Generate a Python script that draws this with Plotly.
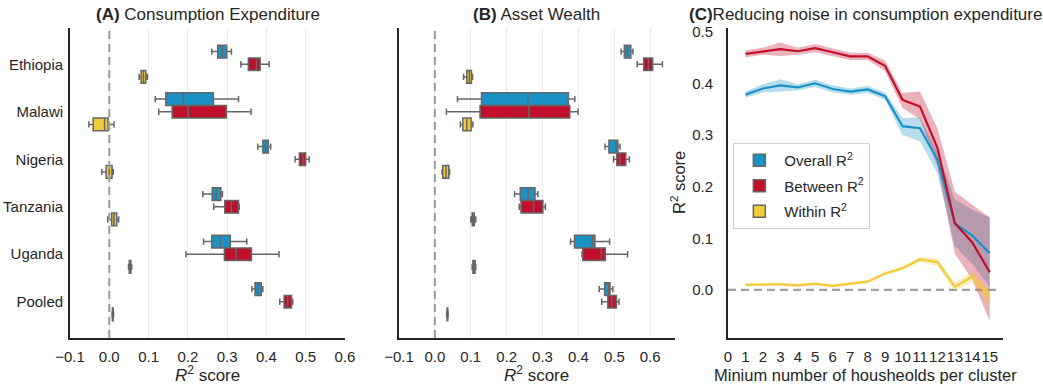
import plotly.graph_objects as go

countries = ["Ethiopia", "Malawi", "Nigeria", "Tanzania", "Uganda", "Pooled"]
series_names = ["Overall R<sup>2</sup>", "Between R<sup>2</sup>", "Within R<sup>2</sup>"]

# Panel A: Consumption expenditure (box stats per country)
cons_overall_lo = [0.261, 0.117, 0.378, 0.238, 0.240, 0.363]
cons_overall_q1 = [0.276, 0.144, 0.391, 0.262, 0.261, 0.371]
cons_overall_med = [0.288, 0.188, 0.398, 0.272, 0.283, 0.378]
cons_overall_q3 = [0.299, 0.265, 0.405, 0.284, 0.308, 0.387]
cons_overall_hi = [0.311, 0.329, 0.411, 0.288, 0.350, 0.391]

cons_between_lo = [0.335, 0.126, 0.473, 0.266, 0.195, 0.434]
cons_between_q1 = [0.354, 0.160, 0.484, 0.294, 0.293, 0.445]
cons_between_med = [0.375, 0.201, 0.493, 0.311, 0.323, 0.454]
cons_between_q3 = [0.384, 0.298, 0.500, 0.329, 0.362, 0.464]
cons_between_hi = [0.407, 0.361, 0.509, 0.331, 0.432, 0.467]

cons_within_lo = [0.076, -0.052, -0.019, -0.004, 0.049, 0.007]
cons_within_q1 = [0.081, -0.041, -0.008, 0.006, 0.051, 0.008]
cons_within_med = [0.087, -0.012, 0.000, 0.012, 0.053, 0.009]
cons_within_q3 = [0.093, -0.003, 0.007, 0.019, 0.055, 0.010]
cons_within_hi = [0.097, 0.012, 0.010, 0.024, 0.057, 0.011]

# Panel B: Asset wealth
asset_overall_lo = [0.519, 0.063, 0.474, 0.222, 0.378, 0.458]
asset_overall_q1 = [0.528, 0.130, 0.485, 0.238, 0.389, 0.473]
asset_overall_med = [0.536, 0.259, 0.505, 0.260, 0.439, 0.484]
asset_overall_q3 = [0.546, 0.372, 0.510, 0.279, 0.446, 0.488]
asset_overall_hi = [0.552, 0.390, 0.516, 0.287, 0.487, 0.496]

asset_between_lo = [0.564, 0.032, 0.498, 0.235, 0.410, 0.465]
asset_between_q1 = [0.582, 0.126, 0.507, 0.240, 0.412, 0.482]
asset_between_med = [0.595, 0.262, 0.516, 0.275, 0.464, 0.493]
asset_between_q3 = [0.607, 0.376, 0.532, 0.301, 0.475, 0.506]
asset_between_hi = [0.634, 0.399, 0.542, 0.308, 0.537, 0.513]

asset_within_lo = [0.080, 0.071, 0.020, 0.100, 0.104, 0.033]
asset_within_q1 = [0.089, 0.078, 0.022, 0.104, 0.106, 0.034]
asset_within_med = [0.096, 0.089, 0.031, 0.107, 0.109, 0.035]
asset_within_q3 = [0.102, 0.101, 0.039, 0.110, 0.112, 0.036]
asset_within_hi = [0.105, 0.106, 0.041, 0.114, 0.114, 0.037]

# Panel C: reducing noise
households = list(range(1, 16))
overall_mean = [0.378, 0.390, 0.396, 0.392, 0.400, 0.389, 0.384, 0.388, 0.375, 0.317, 0.313, 0.252, 0.129, 0.105, 0.071]
overall_lo = [0.372, 0.382, 0.384, 0.386, 0.393, 0.382, 0.378, 0.381, 0.368, 0.300, 0.288, 0.226, 0.085, 0.050, 0.005]
overall_hi = [0.384, 0.398, 0.408, 0.398, 0.407, 0.396, 0.390, 0.395, 0.382, 0.333, 0.334, 0.268, 0.175, 0.155, 0.140]
between_mean = [0.457, 0.462, 0.466, 0.462, 0.468, 0.460, 0.452, 0.452, 0.434, 0.368, 0.355, 0.275, 0.129, 0.092, 0.034]
between_lo = [0.450, 0.455, 0.453, 0.455, 0.460, 0.452, 0.445, 0.445, 0.424, 0.352, 0.331, 0.239, 0.070, 0.020, -0.060]
between_hi = [0.464, 0.469, 0.479, 0.469, 0.476, 0.468, 0.459, 0.459, 0.444, 0.381, 0.384, 0.313, 0.190, 0.165, 0.140]
within_mean = [0.010, 0.010, 0.011, 0.009, 0.012, 0.008, 0.012, 0.016, 0.032, 0.042, 0.059, 0.054, 0.006, 0.026, -0.013]
within_lo = [0.007, 0.007, 0.008, 0.006, 0.009, 0.005, 0.009, 0.013, 0.029, 0.038, 0.054, 0.046, -0.002, 0.016, -0.035]
within_hi = [0.013, 0.013, 0.014, 0.012, 0.015, 0.011, 0.015, 0.019, 0.035, 0.046, 0.064, 0.062, 0.014, 0.036, 0.000]

colors = ["#1b92c6", "#bf0f2b", "#f1cb39"]
fills = ["rgba(27,146,198,0.32)", "rgba(191,15,43,0.32)", "rgba(241,203,57,0.32)"]
FONT = "Liberation Sans, Arial, sans-serif"
TXT = "#262626"

fig = go.Figure()

panelA = [
    (cons_overall_lo, cons_overall_q1, cons_overall_med, cons_overall_q3, cons_overall_hi),
    (cons_between_lo, cons_between_q1, cons_between_med, cons_between_q3, cons_between_hi),
    (cons_within_lo, cons_within_q1, cons_within_med, cons_within_q3, cons_within_hi),
]
panelB = [
    (asset_overall_lo, asset_overall_q1, asset_overall_med, asset_overall_q3, asset_overall_hi),
    (asset_between_lo, asset_between_q1, asset_between_med, asset_between_q3, asset_between_hi),
    (asset_within_lo, asset_within_q1, asset_within_med, asset_within_q3, asset_within_hi),
]

for pi, (panel, xa, ya) in enumerate([(panelA, "x", "y"), (panelB, "x2", "y2")]):
    for i, (lo, q1, med, q3, hi) in enumerate(panel):
        fig.add_trace(go.Box(
            y=countries, q1=q1, median=med, q3=q3, lowerfence=lo, upperfence=hi,
            orientation="h", name=series_names[i], legendgroup=series_names[i],
            showlegend=(pi == 0), offsetgroup=str(i),
            fillcolor=colors[i], line=dict(color="#666666", width=1.5),
            whiskerwidth=0.5, boxpoints=False, xaxis=xa, yaxis=ya,
        ))

bands = [(overall_mean, overall_lo, overall_hi), (between_mean, between_lo, between_hi),
         (within_mean, within_lo, within_hi)]
for i, (m, lo, hi) in enumerate(bands):
    fig.add_trace(go.Scatter(x=households, y=hi, mode="lines", line=dict(width=0, color=colors[i]),
                             showlegend=False, hoverinfo="skip", xaxis="x3", yaxis="y3"))
    fig.add_trace(go.Scatter(x=households, y=lo, mode="lines", line=dict(width=0, color=colors[i]),
                             fill="tonexty", fillcolor=fills[i],
                             showlegend=False, hoverinfo="skip", xaxis="x3", yaxis="y3"))
for i, (m, lo, hi) in enumerate(bands):
    fig.add_trace(go.Scatter(x=households, y=m, mode="lines", line=dict(width=2.2, color=colors[i]),
                             showlegend=False, xaxis="x3", yaxis="y3"))

axis_common = dict(showline=True, linecolor="#262626", linewidth=1.8, zeroline=False,
                   tickfont=dict(size=15, color=TXT, family=FONT), ticks="", automargin=False)

fig.update_layout(
    width=1043, height=385,
    margin=dict(l=70, r=40, t=28, b=47, autoexpand=False),
    paper_bgcolor="white", plot_bgcolor="white",
    font=dict(family=FONT, color=TXT),
    boxmode="group", boxgap=0.2, boxgroupgap=0,
    xaxis=dict(domain=[0, 0.2947], range=[-0.1, 0.6], tickvals=[-0.1, 0, 0.1, 0.2, 0.3, 0.4, 0.5, 0.6],
               tickformat=".1f", showgrid=True, gridcolor="#ebebeb", gridwidth=1, tickangle=0,
               ticklabelstandoff=4, **axis_common),
    yaxis=dict(domain=[0, 1], type="category", categoryorder="array", categoryarray=countries,
               range=[5.764, -0.764], showgrid=False, ticklabelstandoff=2, **axis_common),
    xaxis2=dict(domain=[0.3526, 0.6484], range=[-0.1, 0.669], tickvals=[-0.1, 0, 0.1, 0.2, 0.3, 0.4, 0.5, 0.6],
                tickformat=".1f", showgrid=True, gridcolor="#ebebeb", gridwidth=1, tickangle=0,
                ticklabelstandoff=4, anchor="y2", **axis_common),
    yaxis2=dict(domain=[0, 1], type="category", categoryorder="array", categoryarray=countries,
                range=[5.764, -0.764], showgrid=False, showticklabels=False, anchor="x2", **axis_common),
    xaxis3=dict(domain=[0.7053, 1.0], range=[0, 15.76], tickvals=list(range(0, 16)), tickangle=0,
                showgrid=False, ticklabelstandoff=4, anchor="y3", **axis_common),
    yaxis3=dict(domain=[0, 1], range=[-0.093, 0.507], tickvals=[0, 0.1, 0.2, 0.3, 0.4, 0.5],
                tickformat=".1f", showgrid=False, ticklabelstandoff=10, anchor="x3", **axis_common),
    legend=dict(x=0.711, y=0.629, xanchor="left", yanchor="top", bgcolor="white",
                bordercolor="#d0d0d0", borderwidth=1, font=dict(size=15, color=TXT, family=FONT),
                tracegroupgap=3, itemwidth=40),
    showlegend=True,
)

shape_line = dict(color="#a0a0a0", width=2.2, dash="8px,5px")
fig.add_shape(type="line", xref="x", yref="y domain", x0=0, x1=0, y0=0, y1=1, line=shape_line, layer="above")
fig.add_shape(type="line", xref="x2", yref="y2 domain", x0=0, x1=0, y0=0, y1=1, line=shape_line, layer="above")
fig.add_shape(type="line", xref="x3 domain", yref="y3", x0=0, x1=0.99, y0=0, y1=0, line=shape_line, layer="below")

def ann(text, x, y, size, **kw):
    fig.add_annotation(text=text, x=x, y=y, xref="paper", yref="paper", showarrow=False,
                       xanchor="center", font=dict(size=size, color=TXT, family=FONT), **kw)

ann("<b>(A)</b> Consumption Expenditure", 0.1474, 1, 17, yanchor="bottom", yshift=2)
ann("<b>(B)</b> Asset Wealth", 0.5005, 1, 17, yanchor="bottom", yshift=2)
ann("<b>(C)</b>Reducing noise in consumption expenditure", 0.8526, 1, 17, yanchor="bottom", yshift=2)
ann("<i>R</i><sup>2</sup> score", 0.1474, 0, 17, yanchor="middle", yshift=-36)
ann("<i>R</i><sup>2</sup> score", 0.5005, 0, 17, yanchor="middle", yshift=-36)
ann("Minium number of housheolds per cluster", 0.8526, 0, 16.5, yanchor="middle", yshift=-37)
ann("R<sup>2</sup> score", 0.6517, 0.5, 16.5, textangle=-90, yanchor="middle")

fig.write_html("out.html", config={"displayModeBar": False},
               post_script="document.body.style.margin='0';document.body.style.overflow='hidden';")
